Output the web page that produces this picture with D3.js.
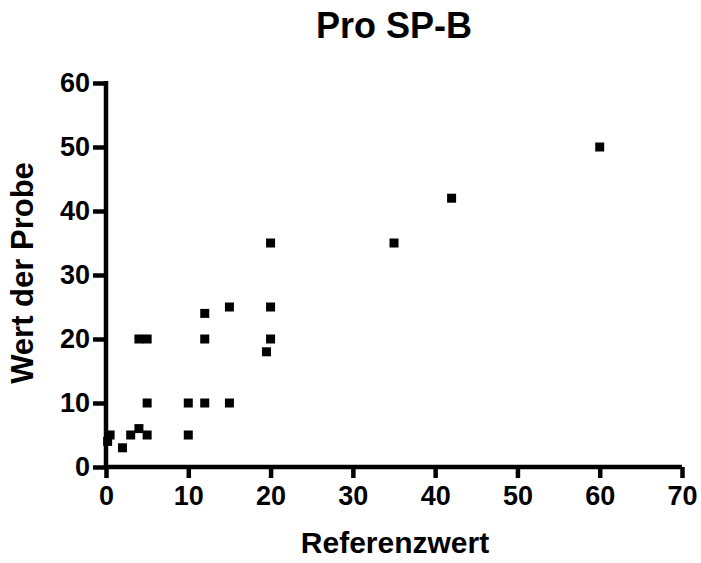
<!DOCTYPE html>
<html>
<head>
<meta charset="utf-8">
<script src="https://cdn.jsdelivr.net/npm/d3@7"></script>
<style>
  body { margin: 0; background: #fff; }
  text { font-family: "Liberation Sans", Arial, Helvetica, sans-serif; font-weight: bold; fill: #000; }
</style>
</head>
<body>
<script>
// Data
const referenzwert = [60, 42, 35, 20, 20, 20, 19.5, 15, 15, 12, 12, 12, 10, 10, 5, 4, 5, 5, 4, 3, 2, 0.5, 0.2];
const wertDerProbe = [50, 42, 35, 35, 25, 20, 18, 25, 10, 24, 20, 10, 10, 5, 20, 20, 10, 5, 6, 5, 3, 5, 4];
const xTicks = [0, 10, 20, 30, 40, 50, 60, 70];
const yTicks = [0, 10, 20, 30, 40, 50, 60];

function drawChart() {
  const width = 701, height = 563;

  const svg = d3.select("body").append("svg")
    .attr("width", width)
    .attr("height", height);

  // Scales
  const x = d3.scaleLinear().domain([0, 70]).range([106, 682]);
  const y = d3.scaleLinear().domain([0, 60]).range([467, 83]);

  // X axis
  const xAxis = svg.append("g")
    .attr("transform", "translate(0," + y(0) + ")")
    .call(d3.axisBottom(x).tickValues(xTicks).tickSize(11).tickPadding(8).tickFormat(d3.format("d")));

  // Y axis
  const yAxis = svg.append("g")
    .attr("transform", "translate(" + x(0) + ",0)")
    .call(d3.axisLeft(y).tickValues(yTicks).tickSize(13).tickPadding(3).tickFormat(d3.format("d")));

  [xAxis, yAxis].forEach(function(ax) {
    ax.select(".domain").remove();
    ax.selectAll(".tick line").attr("stroke", "#000").attr("stroke-width", 4.5);
    ax.selectAll(".tick text").style("font-size", "27px").attr("fill", "#000");
  });

  // Axis lines drawn as plain lines so they are thick and flat
  svg.append("line")
    .attr("x1", x(0)).attr("x2", x(70))
    .attr("y1", y(0)).attr("y2", y(0))
    .attr("stroke", "#000").attr("stroke-width", 4.5);
  svg.append("line")
    .attr("x1", x(0)).attr("x2", x(0))
    .attr("y1", y(0)).attr("y2", y(60) - 2)
    .attr("stroke", "#000").attr("stroke-width", 4.5);

  // Points as squares
  const s = 9;
  svg.append("g").selectAll("rect")
    .data(d3.range(referenzwert.length))
    .enter().append("rect")
    .attr("x", function(i) { return x(referenzwert[i]) - s / 2; })
    .attr("y", function(i) { return y(wertDerProbe[i]) - s / 2; })
    .attr("width", s)
    .attr("height", s)
    .attr("fill", "#000");

  // Title and axis labels
  svg.append("text")
    .attr("x", 394).attr("y", 38)
    .attr("text-anchor", "middle")
    .style("font-size", "36px")
    .text("Pro SP-B");

  svg.append("text")
    .attr("x", 395).attr("y", 553)
    .attr("text-anchor", "middle")
    .style("font-size", "30px")
    .text("Referenzwert");

  svg.append("text")
    .attr("transform", "translate(33,273) rotate(-90)")
    .attr("text-anchor", "middle")
    .style("font-size", "31px")
    .text("Wert der Probe");
}

window.onload = drawChart;
</script>
</body>
</html>
